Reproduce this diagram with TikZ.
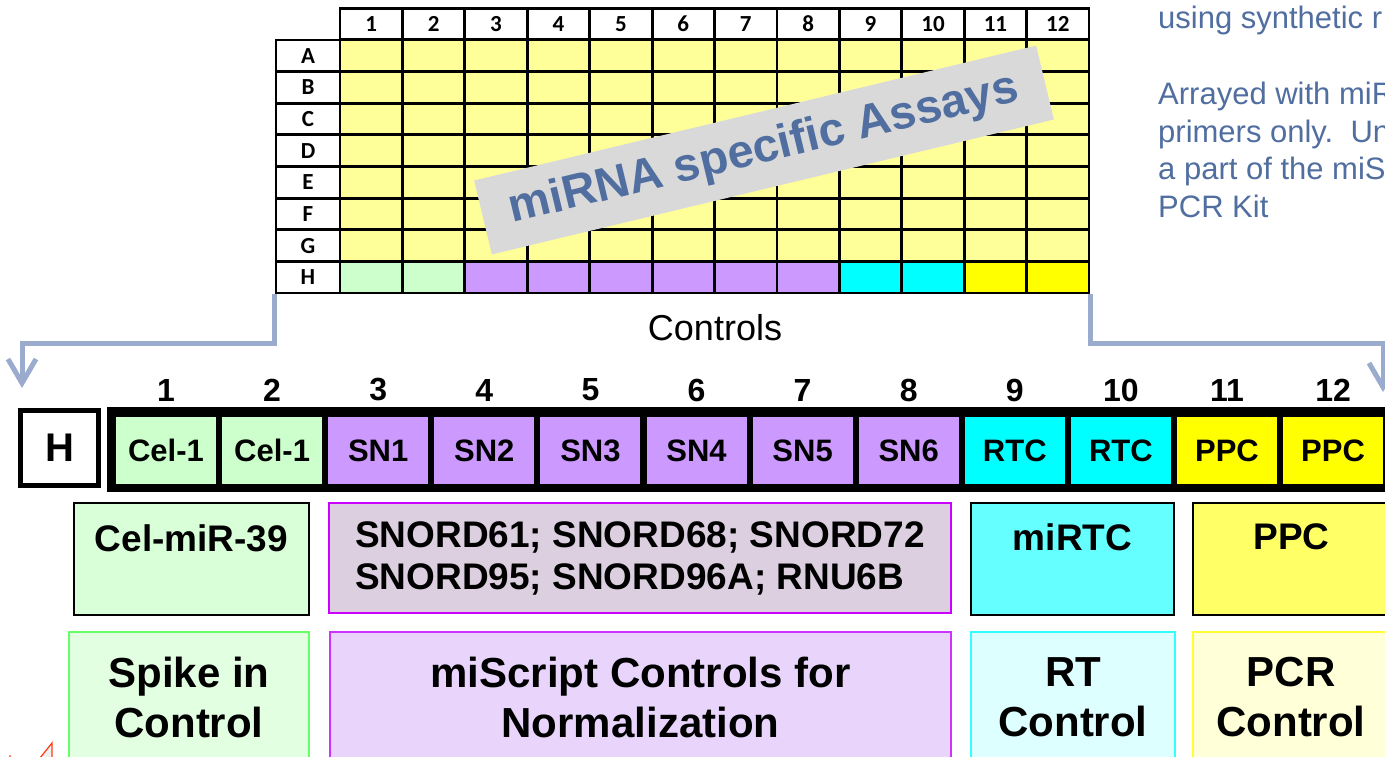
\documentclass[tikz,border=0pt]{standalone}
\usepackage{fontspec}
\setmainfont{Liberation Sans}
\newfontfamily\platefont{Carlito}
\usetikzlibrary{positioning,arrows.meta}

\definecolor{wellyellow}{RGB}{255,255,153}
\definecolor{celgreen}{RGB}{204,255,204}
\definecolor{snviolet}{RGB}{204,153,255}
\definecolor{rtcyan}{RGB}{0,255,255}
\definecolor{ppcyellow}{RGB}{255,255,0}
\definecolor{bannergrey}{RGB}{217,217,217}
\definecolor{slateblue}{RGB}{80,110,160}
\definecolor{flowblue}{RGB}{155,171,205}
\definecolor{celfill}{RGB}{216,255,216}
\definecolor{snfill}{RGB}{220,208,224}
\definecolor{snmagenta}{RGB}{204,0,255}
\definecolor{mirtcfill}{RGB}{102,255,255}
\definecolor{ppcfill}{RGB}{255,255,102}
\definecolor{spikefill}{RGB}{226,255,226}
\definecolor{spikeline}{RGB}{102,255,102}
\definecolor{normfill}{RGB}{233,213,252}
\definecolor{normline}{RGB}{204,51,255}
\definecolor{rtfill}{RGB}{222,255,255}
\definecolor{rtline}{RGB}{51,255,255}
\definecolor{pcrfill}{RGB}{255,255,216}
\definecolor{pcrline}{RGB}{255,255,51}
\definecolor{markred}{RGB}{255,60,20}

\begin{document}
\begin{tikzpicture}[x=1pt,y=-1pt,
  well/.style={draw,line width=2.8pt,minimum width=62.4pt,minimum height=31.6pt,inner sep=0pt,font=\platefont\bfseries\fontsize{23}{26}\selectfont},
  hcell/.style={minimum width=100pt,minimum height=67pt,inner sep=0pt,font=\bfseries\fontsize{31}{36}\selectfont},
  hnum/.style={inner sep=0pt,font=\bfseries\fontsize{32}{36}\selectfont},
  infobox/.style={draw,line width=2pt,inner sep=0pt},
  boxtext/.style={inner sep=0pt,font=\bfseries\fontsize{37}{42}\selectfont},
  ctrlbox/.style={draw,line width=2.5pt,inner sep=0pt,minimum height=130pt,align=center,font=\bfseries\fontsize{42}{50}\selectfont},
  flow/.style={draw=flowblue,line width=5pt,-{Straight Barb[length=24pt,width=28pt]}}
]
\useasboundingbox (0,0) rectangle (1385,757);
\clip (0,0) rectangle (1385,757);
\fill[white] (0,0) rectangle (1385,757);

% plate
\foreach \c in {1,...,12}
  \node[well] (col-\c) at ({340+(\c-0.5)*62.42},24) {\c};
\foreach \lab [count=\i] in {A,B,C,D,E,F,G,H}
  \node[well,minimum width=64pt] (row-\lab) at (308,{40+(\i-0.5)*31.625}) {\lab};
\foreach \lab [count=\i] in {A,B,C,D,E,F,G}
  \foreach \c in {1,...,12}
    \node[well,fill=wellyellow] (w-\lab-\c) at ({340+(\c-0.5)*62.42},{40+(\i-0.5)*31.625}) {};
\foreach \col [count=\c] in {celgreen,celgreen,snviolet,snviolet,snviolet,snviolet,snviolet,snviolet,rtcyan,rtcyan,ppcyellow,ppcyellow}
  \node[well,fill=\col] (w-H-\c) at ({340+(\c-0.5)*62.42},277.2) {};

\node[rotate=13.5,fill=bannergrey,minimum width=578pt,minimum height=76pt,inner sep=0pt,text=slateblue,font=\bfseries\fontsize{47}{50}\selectfont] (banner) at (764,150) {miRNA specific Assays};

\node[anchor=base west,inner sep=0pt,align=left,text=slateblue,font=\fontsize{31}{38}\selectfont] (note) at (1158,218)
  {using synthetic r\\[38pt]Arrayed with miR\\primers only.\ \ Un\\a part of the miS\\PCR Kit};

\node[inner sep=0pt,font=\fontsize{36}{40}\selectfont] (controls) at (715,328) {Controls};

% row H close-up
\node[draw,line width=5pt,minimum width=78pt,minimum height=75pt,inner sep=0pt,font=\bfseries\fontsize{40}{44}\selectfont] (hbox) at (59.5,448) {H};
\fill (107,407) rectangle (1400,492);
\foreach \lab/\col [count=\c] in {Cel-1/celgreen,Cel-1/celgreen,SN1/snviolet,SN2/snviolet,SN3/snviolet,SN4/snviolet,SN5/snviolet,SN6/snviolet,RTC/rtcyan,RTC/rtcyan,PPC/ppcyellow,PPC/ppcyellow}
{
  \node[hcell,fill=\col] (h-\c) at ({166+(\c-1)*106.1},450.5) {\lab};
  \node[hnum] (n-\c) at ({166+(\c-1)*106.1},390) {\c};
}

\coordinate (lbend) at (22,343);
\coordinate (ltip) at (22,388);
\coordinate (rbend) at (1383,343);
\coordinate (rtip) at (1383,392);
\draw[flow] (row-H.south west) |- (lbend) -- (ltip);
\draw[flow] (w-H-12.south east) |- (rbend) -- (rtip);

% what the controls are
\node[infobox,fill=celfill,minimum width=235pt,minimum height=112pt] (cel) at (191.5,559) {};
\node[boxtext,below=22pt of cel.north] (cel-t) {Cel-miR-39};
\node[infobox,draw=snmagenta,fill=snfill,minimum width=622pt,minimum height=110pt,align=left,font=\bfseries\fontsize{37}{42}\selectfont] (snord) at (640,558)
  {SNORD61; SNORD68; SNORD72\\SNORD95; SNORD96A; RNU6B};
\node[infobox,fill=mirtcfill,minimum width=203pt,minimum height=112pt] (mirtc) at (1072.5,559) {};
\node[boxtext,below=21pt of mirtc.north] (mirtc-t) {miRTC};
\node[infobox,fill=ppcfill,minimum width=197pt,minimum height=112pt] (ppc) at (1291.5,559) {};
\node[boxtext,below=21pt of ppc.north] (ppc-t) {PPC};

\node[ctrlbox,draw=spikeline,fill=spikefill,minimum width=240pt] (spike) at (189,697) {Spike in\\Control};
\node[ctrlbox,draw=normline,fill=normfill,minimum width=621pt] (norm) at (640.5,697) {miScript Controls for\\Normalization};
\node[ctrlbox,draw=rtline,fill=rtfill,minimum width=204pt] (rt) at (1073,697) {RT\\Control};
\node[ctrlbox,draw=pcrline,fill=pcrfill,minimum width=196pt] (pcr) at (1291,697) {PCR\\Control};

\draw[markred,fill=gray!12,line width=1.2pt] (40,758) -- (52,743) -- (52,758);
\fill[markred] (10,756) circle (1pt);
\end{tikzpicture}
\end{document}
